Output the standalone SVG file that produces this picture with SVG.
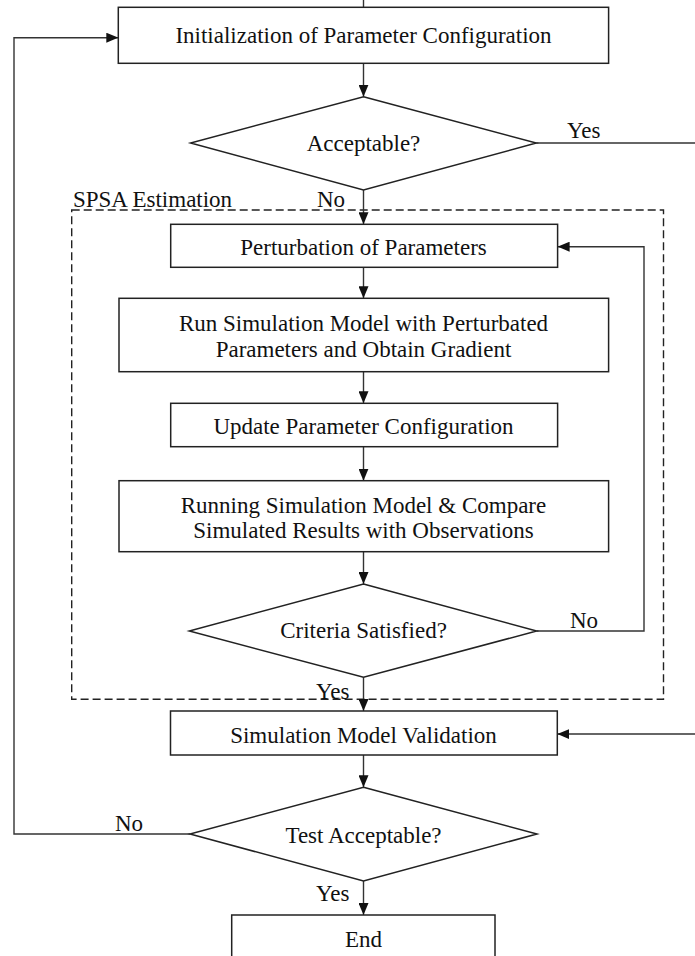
<svg xmlns="http://www.w3.org/2000/svg" width="695" height="956" viewBox="0 0 695 956">
<defs>
<style>
.box{fill:#fff;stroke:#222;stroke-width:1.5}
.dia{fill:#fff;stroke:#222;stroke-width:1.5}
.ln{fill:none;stroke:#333;stroke-width:1.4}
.dash{fill:none;stroke:#222;stroke-width:1.4;stroke-dasharray:8 4}
.t{font-family:"Liberation Serif","Times New Roman",serif;font-size:23px;fill:#111}
.c{text-anchor:middle}
</style>
<marker id="ah" markerUnits="userSpaceOnUse" viewBox="0 0 12 10" refX="12" refY="5" markerWidth="12" markerHeight="10" orient="auto">
<path d="M0,0 L12,5 L0,10 z" fill="#111"/>
</marker>
</defs>
<rect width="695" height="956" fill="#fff"/>

<g id="spsa-group">
<rect class="dash" x="71.7" y="210" width="591.8" height="489.3"/>
<text class="t" x="73" y="207">SPSA Estimation</text>
</g>

<g id="connectors">
<line class="ln" x1="363.5" y1="0" x2="363.5" y2="7"/>
<line class="ln" x1="363.5" y1="63.3" x2="363.5" y2="96.7" marker-end="url(#ah)"/>
<line class="ln" x1="363.5" y1="190" x2="363.5" y2="224.3" marker-end="url(#ah)"/>
<line class="ln" x1="363.5" y1="267.3" x2="363.5" y2="298.3" marker-end="url(#ah)"/>
<line class="ln" x1="363.5" y1="371.7" x2="363.5" y2="403.3" marker-end="url(#ah)"/>
<line class="ln" x1="363.5" y1="446.7" x2="363.5" y2="480.7" marker-end="url(#ah)"/>
<line class="ln" x1="363.5" y1="551.7" x2="363.5" y2="584" marker-end="url(#ah)"/>
<line class="ln" x1="363.5" y1="677.3" x2="363.5" y2="711" marker-end="url(#ah)"/>
<line class="ln" x1="363.5" y1="755" x2="363.5" y2="787.3" marker-end="url(#ah)"/>
<line class="ln" x1="363.5" y1="881" x2="363.5" y2="915" marker-end="url(#ah)"/>
<polyline class="ln" points="536.5,631 644,631 644,246.7 557.6,246.7" marker-end="url(#ah)"/>
<line class="ln" x1="536.3" y1="143" x2="695" y2="143"/>
<line class="ln" x1="695" y1="734" x2="557.3" y2="734" marker-end="url(#ah)"/>
<polyline class="ln" points="190,834 14,834 14,37.7 118.3,37.7" marker-end="url(#ah)"/>
<text class="t" x="567" y="138">Yes</text>
<text class="t" x="317" y="207">No</text>
<text class="t" x="570" y="628">No</text>
<text class="t" x="316" y="699">Yes</text>
<text class="t" x="115" y="831">No</text>
<text class="t" x="316" y="901">Yes</text>
</g>

<g id="init">
<rect class="box" x="118.3" y="7.3" width="490.3" height="56"/>
<text class="t c" x="363.5" y="43.3">Initialization of Parameter Configuration</text>
</g>

<g id="acceptable">
<polygon class="dia" points="363.5,96.7 536.3,143 363.5,190 190.6,143"/>
<text class="t c" x="363.5" y="150.5">Acceptable?</text>
</g>

<g id="perturbation">
<rect class="box" x="170.7" y="224.3" width="386.9" height="43"/>
<text class="t c" x="363.5" y="255">Perturbation of Parameters</text>
</g>

<g id="run-sim">
<rect class="box" x="119" y="298.3" width="489.6" height="73.4"/>
<text class="t c" x="363.5" y="330.5">Run Simulation Model with Perturbated</text>
<text class="t c" x="363.5" y="356.5">Parameters and Obtain Gradient</text>
</g>

<g id="update">
<rect class="box" x="170.7" y="403.3" width="386.9" height="43.4"/>
<text class="t c" x="363.5" y="434">Update Parameter Configuration</text>
</g>

<g id="running">
<rect class="box" x="119" y="480.7" width="489.6" height="71"/>
<text class="t c" x="363.5" y="512.5">Running Simulation Model &amp; Compare</text>
<text class="t c" x="363.5" y="537.5">Simulated Results with Observations</text>
</g>

<g id="criteria">
<polygon class="dia" points="363.5,584 536.7,631 363.5,677.3 189.3,631"/>
<text class="t c" x="363.5" y="638.3">Criteria Satisfied?</text>
</g>

<g id="validation">
<rect class="box" x="170.5" y="711" width="386.8" height="44"/>
<text class="t c" x="363.5" y="742.7">Simulation Model Validation</text>
</g>

<g id="test">
<polygon class="dia" points="363.5,787.3 537,834 363.5,881 190,834"/>
<text class="t c" x="363.5" y="843.3">Test Acceptable?</text>
</g>

<g id="end">
<rect class="box" x="231.7" y="915" width="263.3" height="60"/>
<text class="t c" x="363.5" y="946.7">End</text>
</g>
</svg>
